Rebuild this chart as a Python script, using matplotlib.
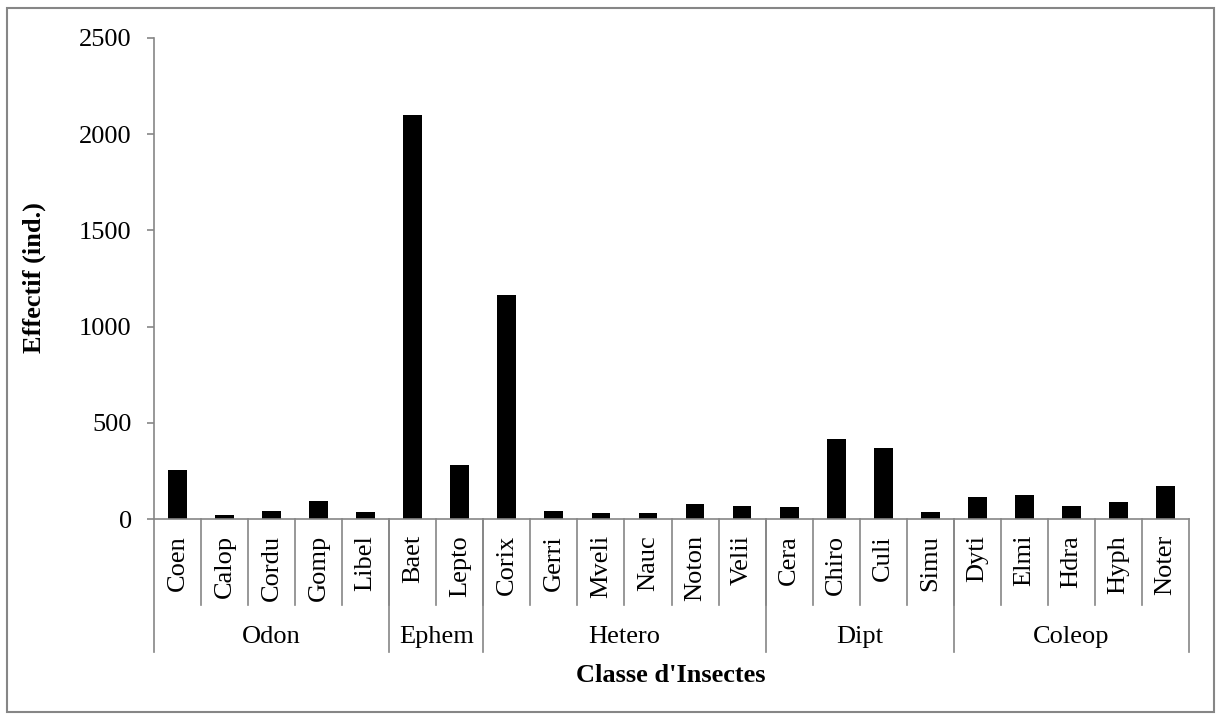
import matplotlib.pyplot as plt
from matplotlib.patches import Rectangle

# Effectifs par famille, regroupés par ordre
groups = ['Odon', 'Ephem', 'Hetero', 'Dipt', 'Coleop']
group_sizes = [5, 2, 6, 4, 5]
families = ['Coen', 'Calop', 'Cordu', 'Gomp', 'Libel',
            'Baet', 'Lepto',
            'Corix', 'Gerri', 'Mveli', 'Nauc', 'Noton', 'Velii',
            'Cera', 'Chiro', 'Culi', 'Simu',
            'Dyti', 'Elmi', 'Hdra', 'Hyph', 'Noter']
counts = [255, 21, 44, 92, 35,
          2100, 280,
          1165, 39, 30, 30, 80, 69,
          62, 417, 370, 35,
          115, 125, 66, 89, 170]
y_ticks = [0, 500, 1000, 1500, 2000, 2500]

plt.rcParams['font.family'] = ['Liberation Serif', 'DejaVu Serif']
GRAY = '#868686'
FS = 19

fig = plt.figure(figsize=(12.19, 7.15), dpi=100)
ax = fig.add_axes([154 / 1219, 1 - 519 / 715, (1189 - 154) / 1219, (519 - 38) / 715])

x = list(range(len(families)))
ax.bar(x, counts, width=0.4, color='black')

ax.set_xlim(-0.5, len(families) - 0.5)
ax.set_ylim(0, 2500)
ax.set_yticks(y_ticks)
ax.tick_params(axis='y', direction='out', length=5, width=1.2, color=GRAY,
               labelsize=FS, pad=11)
ax.set_xticks([])
for side in ['top', 'right']:
    ax.spines[side].set_visible(False)
for side in ['left', 'bottom']:
    ax.spines[side].set_color(GRAY)
    ax.spines[side].set_linewidth(1.2)

trans = ax.get_xaxis_transform()
ax_h = 519 - 38
cat_bottom = -(605 - 519) / ax_h
grp_bottom = -(652 - 519) / ax_h
label_top = -(535 - 519) / ax_h
grp_label_y = -(637 - 519) / ax_h

# Étiquettes des familles (verticales) et séparateurs
for i, name in enumerate(families):
    ax.text(i, label_top, name, rotation=90, ha='center', va='top',
            fontsize=FS, transform=trans)
for b in range(1, len(families)):
    ax.plot([b - 0.5, b - 0.5], [0, cat_bottom], color=GRAY, lw=1.2,
            transform=trans, clip_on=False)

# Étiquettes des ordres et séparateurs longs
start = 0
edges = [-0.5]
for g, n in zip(groups, group_sizes):
    center = start + (n - 1) / 2
    ax.text(center, grp_label_y, g, ha='center', va='center', fontsize=FS,
            transform=trans)
    start += n
    edges.append(start - 0.5)
for e in edges:
    ax.plot([e, e], [0, grp_bottom], color=GRAY, lw=1.2,
            transform=trans, clip_on=False)

fig.text(671 / 1219, 1 - 675 / 715, "Classe d'Insectes", ha='center', va='center',
         fontsize=FS, fontweight='bold')
fig.text(34 / 1219, 1 - 278 / 715, 'Effectif (ind.)', ha='center', va='center',
         rotation=90, fontsize=FS, fontweight='bold')

# Cadre autour du graphique
fig.patches.append(Rectangle((7 / 1219, 3 / 715), 1207 / 1219, 704 / 715,
                             transform=fig.transFigure, fill=False,
                             edgecolor=GRAY, lw=1.5))

fig.savefig('out.png', dpi=100)
